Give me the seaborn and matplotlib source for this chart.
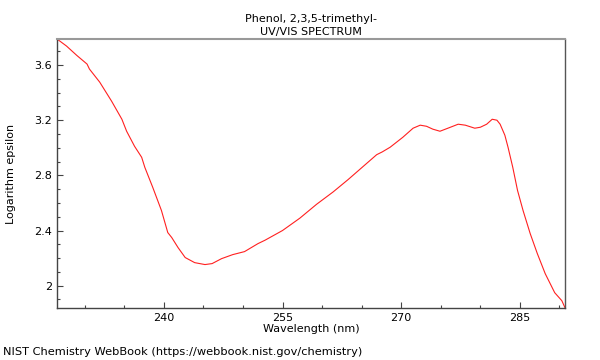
import matplotlib
matplotlib.use("Agg")
import matplotlib.pyplot as plt
import pandas as pd
import seaborn as sns
from matplotlib.ticker import MultipleLocator, FixedLocator

# spectrum
wavelength = [226.5, 227.7, 229.0, 230.3, 230.6, 231.9, 233.4, 234.7, 235.3, 236.3,
              237.2, 237.6, 238.6, 239.7, 240.5, 241.0, 241.8, 242.7, 243.9, 245.2,
              246.1, 247.3, 248.7, 250.2, 251.9, 252.8, 255.0, 257.2, 259.3, 261.4,
              263.3, 265.1, 266.9, 267.6, 268.6, 270.2, 271.5, 272.4, 273.2, 274.0,
              274.9, 275.9, 277.2, 278.1, 279.3, 280.0, 280.8, 281.5, 282.1, 282.5,
              283.1, 283.5, 284.1, 284.7, 285.4, 286.3, 287.2, 288.2, 289.4, 290.3,
              290.7]
log_eps = [3.789, 3.738, 3.67, 3.607, 3.571, 3.476, 3.338, 3.207, 3.120, 3.011,
           2.931, 2.858, 2.713, 2.545, 2.385, 2.349, 2.276, 2.204, 2.167, 2.153,
           2.160, 2.196, 2.225, 2.247, 2.305, 2.33, 2.40, 2.49, 2.59, 2.68,
           2.77, 2.86, 2.95, 2.97, 3.004, 3.076, 3.142, 3.164, 3.156, 3.135,
           3.120, 3.142, 3.171, 3.164, 3.142, 3.149, 3.171, 3.207, 3.200, 3.171,
           3.091, 3.004, 2.858, 2.691, 2.545, 2.378, 2.233, 2.087, 1.949, 1.891,
           1.84]

x_ticks = [240, 255, 270, 285]
y_ticks = [2.0, 2.4, 2.8, 3.2, 3.6]
y_tick_labels = ["2", "2.4", "2.8", "3.2", "3.6"]

df = pd.DataFrame({"wavelength": wavelength, "log_eps": log_eps})

sns.set_style("ticks")
plt.rcParams["font.family"] = ["DejaVu Sans"]
plt.rcParams["text.color"] = "black"
plt.rcParams["axes.labelcolor"] = "black"

fig = plt.figure(figsize=(6, 3.6), dpi=100)
ax = fig.add_axes([57 / 600, 1 - 308 / 360, (565 - 57) / 600, (308 - 39) / 360])

sns.lineplot(data=df, x="wavelength", y="log_eps", ax=ax, color="#ff2020", linewidth=0.8)

ax.set_xlim(226.5, 290.7)
ax.set_ylim(1.838, 3.789)
ax.xaxis.set_major_locator(FixedLocator(x_ticks))
ax.xaxis.set_minor_locator(MultipleLocator(5))
ax.yaxis.set_major_locator(FixedLocator(y_ticks))
ax.set_yticklabels(y_tick_labels)
ax.yaxis.set_minor_locator(MultipleLocator(0.1))
ax.tick_params(which="both", direction="in", colors="#444444", labelcolor="black", labelsize=8)
ax.tick_params(which="major", length=4, width=0.8)
ax.tick_params(which="minor", length=2.5, width=0.8)

for side in ["left", "bottom"]:
    ax.spines[side].set_color("#444444")
    ax.spines[side].set_linewidth(1)
ax.spines["top"].set_color("#999999")
ax.spines["top"].set_linewidth(1.5)
ax.spines["right"].set_color("#555555")
ax.spines["right"].set_linewidth(1)

ax.set_xlabel("Wavelength (nm)", fontsize=8, labelpad=1)
ax.set_ylabel("Logarithm epsilon", fontsize=8, labelpad=13)
ax.set_title("Phenol, 2,3,5-trimethyl-\nUV/VIS SPECTRUM", fontsize=8, pad=3,
             linespacing=1.4, color="black")

fig.text(3 / 600, 1 - 352 / 360, "NIST Chemistry WebBook (https://webbook.nist.gov/chemistry)",
         fontsize=8.2, ha="left", va="center")

fig.savefig("out.png", dpi=100)
